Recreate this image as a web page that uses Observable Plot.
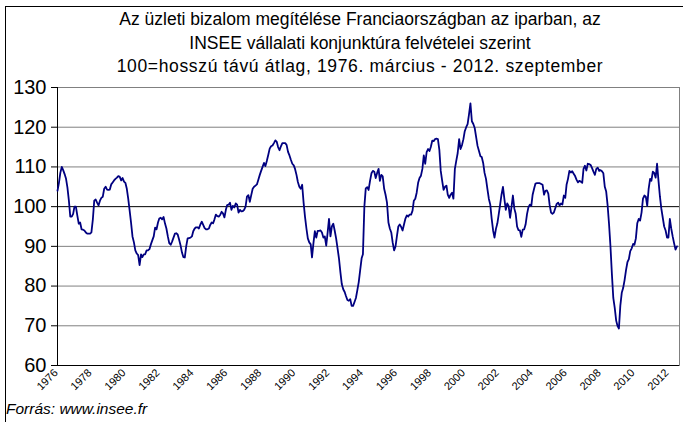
<!DOCTYPE html>
<html><head><meta charset="utf-8">
<script src="https://cdn.jsdelivr.net/npm/d3@7"></script>
<script src="https://cdn.jsdelivr.net/npm/@observablehq/plot@0.6"></script>
<style>
html,body{margin:0;padding:0;overflow:hidden;background:#fff;font-family:"Liberation Sans",Arial,sans-serif;color:#000}
#wrap{position:relative;width:683px;height:422px;overflow:hidden}
#border{position:absolute;left:5px;top:6px;width:690px;height:430px;border:1px solid #000;box-sizing:border-box}
#title{position:absolute;left:30px;width:660px;top:8px;text-align:center;font-size:17.5px;line-height:23.5px}
#title .l3{letter-spacing:0.65px}
#chart{position:absolute;left:0;top:80px}
#caption{position:absolute;left:6px;top:400px;font-style:italic;font-size:15.5px}
</style></head>
<body>
<div id="wrap">
  <div id="border"></div>
  <div id="title">Az üzleti bizalom megítélése Franciaországban az iparban, az<br>INSEE vállalati konjunktúra felvételei szerint<br><span class="l3">100=hosszú távú átlag, 1976. március - 2012. szeptember</span></div>
  <div id="chart"></div>
  <div id="caption">Forrás: www.insee.fr</div>
</div>
<script>
// Monthly index values (1976 starts in March, 2012 ends in September)
const v1976 = [104, 106, 108.5, 110, 109.2, 108.2, 107, 104.8, 101.5, 97.5];
const v1977 = [97.5, 98.2, 100, 100, 97.8, 95.7, 96, 94.3, 94.2, 94, 93.5, 93.2];
const v1978 = [93.2, 93.2, 93.5, 96.8, 101.5, 101.8, 101, 100.3, 101.5, 102.2, 102.5, 104.5];
const v1979 = [105, 104.3, 104.2, 104.3, 105.6, 106.1, 106.6, 107, 107.3, 107.7, 107.5, 106.6];
const v1980 = [107.2, 106.3, 106, 104.5, 102, 99, 96, 92.5, 91, 89, 88.2, 87.8];
const v1981 = [85.3, 88, 87.3, 88, 88, 89, 89, 89.3, 90.5, 91.5, 92.5, 94.7];
const v1982 = [94.3, 96, 97, 97.2, 96.8, 97.4, 95.8, 94.5, 92.5, 90.8, 90.4, 91.2];
const v1983 = [92.2, 93.2, 93.3, 93, 91.7, 90.3, 88.5, 87.3, 87.2, 90, 92, 92.1];
const v1984 = [92.2, 92.5, 93.8, 94.5, 94.8, 94.8, 94.5, 95.5, 96.2, 95.4, 94.6, 94.3];
const v1985 = [94.3, 94.5, 95.4, 96, 95.8, 96.8, 98, 97.6, 97.5, 97.9, 98.7, 98.3];
const v1986 = [97.3, 99.2, 100.4, 100.5, 101, 99.2, 100.2, 99.8, 100.8, 100.5, 98.5, 99.2];
const v1987 = [98.8, 98.9, 99.2, 100, 102.5, 102.9, 101.2, 102.9, 104.5, 105, 105.3, 105.6];
const v1988 = [106.8, 108, 109, 110, 111, 110.2, 111.5, 113, 114.6, 115.2, 115.4, 116];
const v1989 = [116.7, 116.3, 115, 114.2, 115.2, 116, 116, 116, 115.5, 113.8, 112.9, 111.8];
const v1990 = [110.8, 110.4, 109.5, 108, 106.2, 105, 104.5, 105.5, 101, 97.5, 94.5, 92];
const v1991 = [91, 90.5, 87.2, 90.8, 93.8, 92.2, 93.9, 93.9, 94, 93.5, 92.2, 92.5];
const v1992 = [90.2, 93.5, 96.9, 92.5, 95, 95.7, 94, 92, 89.5, 87, 83.5, 80.5];
const v1993 = [79.2, 78.5, 77.5, 76.5, 76.3, 76.7, 75, 75, 76, 77, 79, 81];
const v1994 = [84, 87, 88, 100, 104.6, 104.9, 104.2, 106.5, 108.4, 109, 108.8, 107.2];
const v1995 = [108.5, 109.5, 106.5, 108, 107.6, 104.5, 103, 101, 96, 94.5, 93.5, 91];
const v1996 = [89, 90, 92.5, 95, 95.5, 94.9, 94, 95.5, 97, 97.8, 97.5, 98];
const v1997 = [98, 99, 101.5, 102, 103.5, 106, 107.2, 107.8, 109.5, 112.9, 110.8, 113.7];
const v1998 = [114.5, 114, 115, 116.6, 116.5, 117, 117.1, 117, 114.3, 109, 106.5, 104.2];
const v1999 = [105, 105.3, 103, 102.2, 103, 103.5, 102, 109.5, 111.6, 113.5, 117, 114.5];
const v2000 = [115.5, 117, 119, 120, 120.8, 123.3, 126, 121.5, 120.8, 119.8, 117.5, 115.3];
const v2001 = [114, 112.7, 112.5, 111, 108.5, 107, 104.5, 102, 100.5, 97, 94, 92.2];
const v2002 = [94.4, 95.8, 98, 100.5, 103, 105, 102, 99.2, 100.8, 100.2, 97.2, 99.8];
const v2003 = [102.8, 99.5, 98.3, 95, 94.1, 94, 92.4, 94.2, 94.3, 95.5, 98.1, 99.8];
const v2004 = [100.5, 100.2, 103, 104.5, 105.8, 105.9, 105.9, 105.9, 105.7, 105.5, 103, 104];
const v2005 = [104.1, 103.3, 100.5, 98.5, 98.2, 98.5, 99.6, 100.7, 101, 100.3, 100.8, 100.5];
const v2006 = [102.8, 102.2, 105.5, 107, 109, 108.6, 108.9, 108.3, 107.7, 106.8, 106.1, 106.5];
const v2007 = [106.3, 106, 109.5, 110.3, 109.1, 110.8, 110.7, 110.5, 109.7, 108.8, 108, 109.5];
const v2008 = [109.8, 109, 109.2, 108.9, 108.4, 105, 103.8, 100.3, 95.5, 90, 83, 77];
const v2009 = [74.5, 71.3, 70, 69.3, 75, 78.3, 79.5, 81.5, 84, 86, 86.8, 88.8];
const v2010 = [89.5, 90.6, 90.4, 92, 95.8, 96.9, 96.5, 98.5, 102, 102.8, 102.5, 100.2];
const v2011 = [104.5, 107, 106.5, 108.8, 108.5, 107.3, 110.8, 106.5, 102.5, 99.5, 97.2, 95];
const v2012 = [94, 92.2, 92.2, 96.9, 94.5, 92.5, 90.8, 89.2, 90];

const seriesByYear = [
  [1976, v1976], [1977, v1977], [1978, v1978], [1979, v1979], [1980, v1980],
  [1981, v1981], [1982, v1982], [1983, v1983], [1984, v1984], [1985, v1985],
  [1986, v1986], [1987, v1987], [1988, v1988], [1989, v1989], [1990, v1990],
  [1991, v1991], [1992, v1992], [1993, v1993], [1994, v1994], [1995, v1995],
  [1996, v1996], [1997, v1997], [1998, v1998], [1999, v1999], [2000, v2000],
  [2001, v2001], [2002, v2002], [2003, v2003], [2004, v2004], [2005, v2005],
  [2006, v2006], [2007, v2007], [2008, v2008], [2009, v2009], [2010, v2010],
  [2011, v2011], [2012, v2012]
];
const firstMonthIndex = 2; // March 1976
const yTicks = [60, 70, 80, 90, 100, 110, 120, 130];
const baseline = 100;
const tickYears = [1976, 1978, 1980, 1982, 1984, 1986, 1988, 1990, 1992, 1994, 1996, 1998, 2000, 2002, 2004, 2006, 2008, 2010, 2012];

const rows = [];
seriesByYear.forEach(([yr, arr], k) => {
  const m0 = k === 0 ? firstMonthIndex : 0;
  arr.forEach((v, i) => rows.push({date: new Date(Date.UTC(yr, m0 + i, 1)), value: v}));
});

const xDomain = [new Date(Date.UTC(1976, 2, 1)), new Date(Date.UTC(2012, 9, 26))];
const xTicks = tickYears.map(y => ({date: new Date(Date.UTC(y, 2, 1)), label: String(y)}));

const chart = Plot.plot({
  width: 683,
  height: 320,
  marginLeft: 57,
  marginRight: 4,
  marginTop: 7,
  marginBottom: 35,
  style: {fontFamily: "'Liberation Sans', Arial, sans-serif", background: "transparent", overflow: "visible", color: "#000"},
  x: {type: "utc", domain: xDomain, axis: null},
  y: {domain: [60, 130], axis: null},
  marks: [
    Plot.ruleY(yTicks.filter(d => d !== baseline), {stroke: "#808080", strokeWidth: 1}),
    Plot.frame({stroke: "#808080"}),
    Plot.ruleY([baseline], {stroke: "#000", strokeWidth: 1}),
    Plot.ruleX([xDomain[0]], {stroke: "#000", strokeWidth: 1}),
    Plot.ruleY([yTicks[0]], {stroke: "#000", strokeWidth: 1}),
    Plot.axisY({ticks: yTicks, tickSize: 6, tickPadding: 5, fontSize: 20, label: null, tickFormat: d => String(d)}),
    Plot.text(xTicks, {x: "date", text: "label", frameAnchor: "bottom", rotate: -45, textAnchor: "end", dy: 8, dx: 1, fontSize: 11}),
    Plot.lineY(rows, {x: "date", y: "value", stroke: "#000080", strokeWidth: 1.8})
  ]
});
document.getElementById("chart").appendChild(chart);
</script>
</body></html>
